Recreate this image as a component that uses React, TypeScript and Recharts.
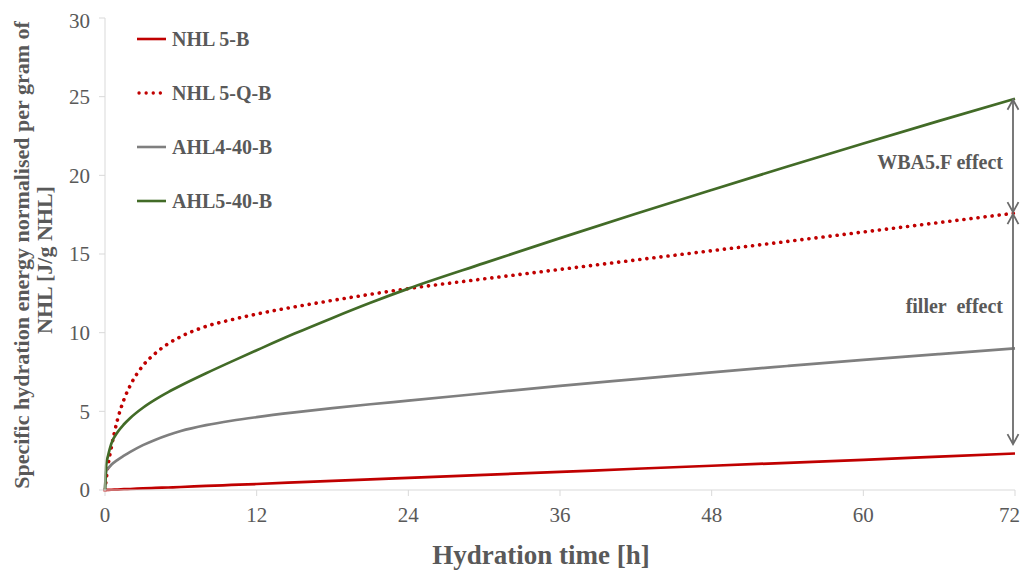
import { LineChart, Line, XAxis, YAxis, ReferenceLine, Legend } from "recharts";

const hours = [0, 0.1, 0.25, 0.5, 1, 1.5, 2, 3, 4, 5, 6, 8, 10, 12, 15, 18, 21, 24, 30, 36, 42, 48, 54, 60, 66, 72];
const nhl5B = [0, 0.003, 0.008, 0.016, 0.03, 0.05, 0.065, 0.1, 0.13, 0.16, 0.19, 0.26, 0.32, 0.38, 0.48, 0.58, 0.67, 0.77, 0.96, 1.15, 1.35, 1.54, 1.73, 1.92, 2.12, 2.32];
const nhl5QB = [0, 0.7, 1.6, 2.7, 4.5, 5.75, 6.65, 7.9, 8.7, 9.3, 9.75, 10.4, 10.82, 11.18, 11.64, 12.05, 12.44, 12.8, 13.42, 14.02, 14.62, 15.21, 15.8, 16.4, 17.0, 17.6];
const ahl440B = [0, 1.2, 1.38, 1.6, 1.92, 2.18, 2.42, 2.85, 3.2, 3.5, 3.75, 4.12, 4.4, 4.63, 4.93, 5.2, 5.45, 5.68, 6.15, 6.62, 7.05, 7.48, 7.88, 8.27, 8.64, 9.0];
const ahl540B = [0, 1.6, 2.2, 2.95, 3.68, 4.18, 4.58, 5.23, 5.76, 6.22, 6.64, 7.42, 8.16, 8.88, 9.94, 10.94, 11.9, 12.8, 14.42, 16.01, 17.56, 19.07, 20.56, 22.02, 23.46, 24.87];

const xTicks = [0, 12, 24, 36, 48, 60, 72];
const yTicks = [0, 5, 10, 15, 20, 25, 30];

// arrows at the right end: [from, to] in J/g
const wbaArrow = [24.87, 17.6];
const fillerArrow = [17.6, 2.85];

const series = [
  { key: "nhl5B", name: "NHL 5-B", color: "#C00000", dash: undefined },
  { key: "nhl5QB", name: "NHL 5-Q-B", color: "#C00000", dash: "0.1 7" },
  { key: "ahl440B", name: "AHL4-40-B", color: "#7F7F7F", dash: undefined },
  { key: "ahl540B", name: "AHL5-40-B", color: "#426B27", dash: undefined },
];

const data = hours.map((h, i) => ({
  t: h,
  nhl5B: nhl5B[i],
  nhl5QB: nhl5QB[i],
  ahl440B: ahl440B[i],
  ahl540B: ahl540B[i],
}));

const FONT = '"Liberation Serif", "Times New Roman", serif';
const TEXT = "#595959";

const YLabel = ({ viewBox }: any) => {
  const cy = viewBox.y + viewBox.height / 2;
  return (
    <g fontFamily={FONT} fontWeight="bold" fontSize={22} fill={TEXT}>
      <text x={21} y={cy + 1} textAnchor="middle" transform={`rotate(-90 21 ${cy + 1})`}>
        Specific hydration energy normalised per gram of
      </text>
      <text x={44} y={cy + 6} textAnchor="middle" transform={`rotate(-90 44 ${cy + 6})`}>
        NHL [J/g NHL]
      </text>
    </g>
  );
};

const XLabel = ({ viewBox }: any) => (
  <text
    x={viewBox.x + viewBox.width / 2 - 19}
    y={viewBox.y + 74}
    textAnchor="middle"
    fontFamily={FONT}
    fontWeight="bold"
    fontSize={27}
    fill={TEXT}
  >
    Hydration time [h]
  </text>
);

const arrowShape = (label: string, dy: number) => (props: any) => {
  const { x1, y1, x2, y2 } = props;
  const x = x1 - 2;
  const top = Math.min(y1, y2) + 1;
  const bot = Math.max(y1, y2) - 1;
  const mid = (top + bot) / 2 + dy;
  const stroke = "#6B6B6B";
  return (
    <g>
      <line x1={x} y1={top} x2={x} y2={bot} stroke={stroke} strokeWidth={1.8} />
      <path d={`M${x - 5.5},${top + 10} L${x},${top} L${x + 5.5},${top + 10}`} fill="none" stroke={stroke} strokeWidth={1.8} />
      <path d={`M${x - 5.5},${bot - 10} L${x},${bot} L${x + 5.5},${bot - 10}`} fill="none" stroke={stroke} strokeWidth={1.8} />
      <text
        x={x - 10}
        y={mid}
        textAnchor="end"
        dominantBaseline="middle"
        fontFamily={FONT}
        fontWeight="bold"
        fontSize={20}
        fill={TEXT}
        style={{ whiteSpace: "pre" }}
      >
        {label}
      </text>
    </g>
  );
};

const LegendContent = () => (
  <div style={{ fontFamily: FONT, fontWeight: "bold", fontSize: 20, color: TEXT }}>
    {series.map((s) => (
      <div key={s.key} style={{ height: 54, display: "flex", alignItems: "center" }}>
        <svg width={35} height={10}>
          <line x1={s.dash ? 2 : 0} y1={5} x2={29} y2={5} stroke={s.color} strokeWidth={s.dash ? 3.3 : 2.6} strokeDasharray={s.dash} strokeLinecap={s.dash ? "round" : "butt"} />
        </svg>
        <span>{s.name}</span>
      </div>
    ))}
  </div>
);

export default function App() {
  return (
    <div style={{ width: 1012, height: 569 }}>
      <LineChart width={1012} height={569} data={data} margin={{ top: 10, right: 5, left: 0, bottom: 8 }}>
        <XAxis
          dataKey="t"
          type="number"
          domain={[0, 72]}
          ticks={xTicks}
          height={79}
          stroke="#D9D9D9"
          tickLine={{ stroke: "#D9D9D9" }}
          tickSize={6}
          tick={{ fontSize: 21, fill: TEXT, fontFamily: FONT, dy: 9 }}
          label={<XLabel />}
        />
        <YAxis
          type="number"
          domain={[0, 30]}
          ticks={yTicks}
          width={97}
          stroke="#D9D9D9"
          tickLine={{ stroke: "#D9D9D9" }}
          tickSize={6}
          tick={{ fontSize: 21, fill: TEXT, fontFamily: FONT, dx: -7 }}
          label={<YLabel />}
        />
        <Legend
          verticalAlign="middle"
          align="center"
          layout="vertical"
          content={<LegendContent />}
          wrapperStyle={{ top: 4, left: 129, width: 220 }}
        />
        {series.map((s) => (
          <Line
            key={s.key}
            dataKey={s.key}
            name={s.name}
            type="monotone"
            stroke={s.color}
            strokeWidth={s.dash ? 3.6 : 2.7}
            strokeDasharray={s.dash}
            strokeLinecap={s.dash ? "round" : "butt"}
            dot={false}
            activeDot={false}
            isAnimationActive={false}
          />
        ))}
        <ReferenceLine
          segment={[{ x: 72, y: wbaArrow[0] }, { x: 72, y: wbaArrow[1] }]}
          shape={arrowShape("WBA5.F effect", 9)}
          ifOverflow="visible"
        />
        <ReferenceLine
          segment={[{ x: 72, y: fillerArrow[0] }, { x: 72, y: fillerArrow[1] }]}
          shape={arrowShape("filler  effect", -21)}
          ifOverflow="visible"
        />
      </LineChart>
    </div>
  );
}
